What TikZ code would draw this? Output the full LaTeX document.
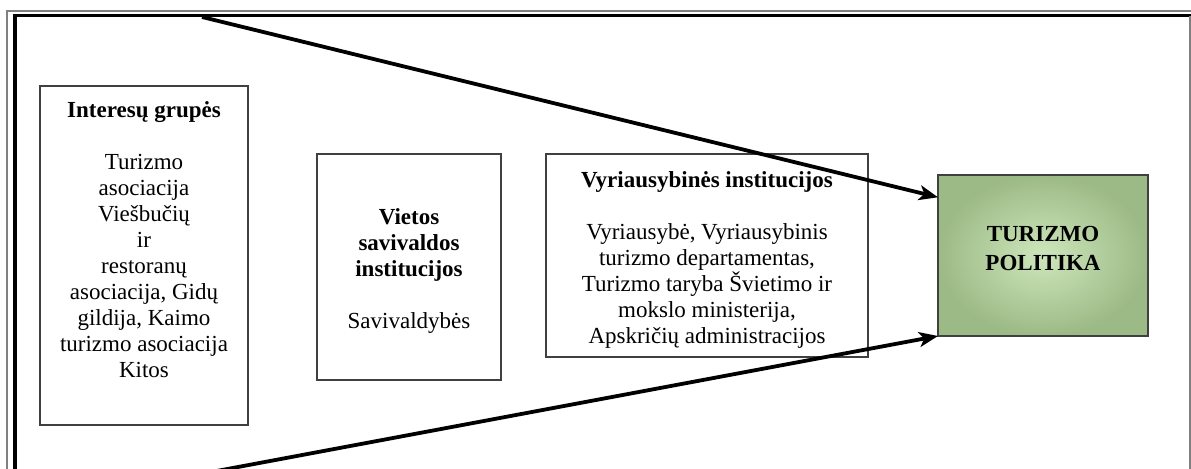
\documentclass[tikz,border=0pt]{standalone}
\usepackage{fontspec}
\setmainfont{Liberation Serif}
\usepackage{tikz}
\usetikzlibrary{arrows.meta}

\definecolor{policyInner}{RGB}{206,230,188}
\definecolor{policyOuter}{RGB}{156,186,133}
\definecolor{boxLine}{RGB}{64,64,64}

\begin{document}
\begin{tikzpicture}[x=0.5pt, y=-0.5pt,
            group-box/.style={rectangle,draw=boxLine,line width=0.6pt,inner sep=0pt,outer sep=0pt},
            box-text/.style={align=center,inner sep=0pt,font=\fontsize{11.5}{13}\selectfont},
            policy-node/.style={group-box,inner color=policyInner,outer color=policyOuter},
            flow-arrow/.style={line width=1.9pt,-{Stealth[length=9.5pt,width=7.5pt,inset=2.5pt]}},
        ]
            \useasboundingbox (0,0) rectangle (1191,469);

            % double frame, open at the bottom
            \draw[line width=0.6pt,gray] (7,469) -- (7,11) -- (1191,11);
            \draw[line width=1.6pt] (15,469) -- (15,15.5) -- (1191,15.5);
            \draw[line width=0.8pt,gray] (1190,16) -- (1190,469);

            \node[group-box,minimum width=104pt,minimum height=169.5pt] (interesai) at (144,255.5) {};
            \node[group-box,minimum width=92pt,minimum height=113pt] (vietos) at (409,267) {};
            \node[group-box,minimum width=161pt,minimum height=101.5pt] (vyriausybe) at (707,255.5) {};
            \node[policy-node,minimum width=105pt,minimum height=80.5pt] (politika) at (1043,255.5) {};

            \node[box-text] (interesai-t) at (144,240) {\textbf{Interesų grupės}\\[13pt]
                Turizmo\\asociacija\\Viešbučių\\ir\\restoranų\\asociacija, Gidų\\gildija, Kaimo\\turizmo asociacija\\Kitos};
            \node[box-text] (vietos-t) at (409,271) {\textbf{Vietos}\\\textbf{savivaldos}\\\textbf{institucijos}\\[13pt]Savivaldybės};
            \node[box-text] (vyriausybe-t) at (707,260) {\textbf{Vyriausybinės institucijos}\\[13pt]
                Vyriausybė, Vyriausybinis\\turizmo departamentas,\\Turizmo taryba Švietimo ir\\mokslo ministerija,\\Apskričių administracijos};
            \node[box-text] (politika-t) at (1043,249) {\textbf{TURIZMO}\\[1.5pt]\textbf{POLITIKA}};

            \coordinate (virsus) at (202,17);
            \coordinate (apacia) at (190,476);

            \draw[flow-arrow] (virsus) -- (politika.151);
            \draw[flow-arrow] (apacia) -- (politika.south west);
        \end{tikzpicture}
\end{document}
